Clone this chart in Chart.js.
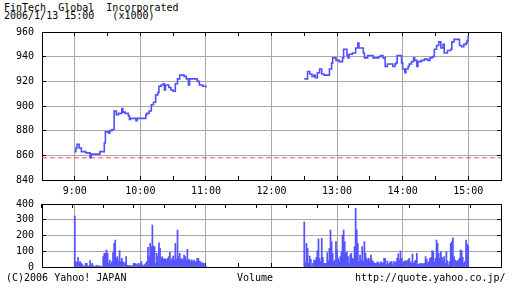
<!DOCTYPE html>
<html>
<head>
<meta charset="utf-8">
<script src="https://cdn.jsdelivr.net/npm/chart.js@4"></script>
<style>
  body { margin: 0; background: #fff; width: 512px; height: 288px; overflow: hidden; position: relative; }
  canvas { position: absolute; left: 0; }
  .txt { position: absolute; font: 10px 'DejaVu Sans Mono', monospace; line-height: 10px; white-space: pre; color: #000; }
</style>
</head>
<body>
<div class="txt" style="left:4px; top:3px;">FinTech  Global  Incorporated</div>
<div class="txt" style="left:4px; top:11px;">2006/1/13 15:00   (x1000)</div>
<canvas id="priceChart" width="512" height="200" style="top:0;"></canvas>
<canvas id="volumeChart" width="512" height="103" style="top:184px;"></canvas>
<div class="txt" style="left:6px; top:273px;">(C)2006 Yahoo! JAPAN</div>
<div class="txt" style="left:237px; top:273px;">Volume</div>
<div class="txt" style="left:355px; top:273px;">http://quote.yahoo.co.jp/</div>

<script>
// price, morning session
const morningTimes = ['9:00','9:01','9:02','9:04','9:06','9:10','9:14','9:15','9:23','9:27',
  '9:28','9:31','9:32','9:34','9:36','9:38','9:40','9:43','9:44','9:46',
  '9:49','9:50','9:51','9:56','9:57','10:05','10:06','10:08','10:10','10:12',
  '10:14','10:16','10:17','10:19','10:21','10:22','10:23','10:26','10:28','10:30',
  '10:32','10:34','10:36','10:40','10:42','10:44','10:45','10:51','10:52','10:54',
  '10:57','11:00'];
const morningPrices = [863,866,869,866,863,862,858,861,863,870,
  879,878,880,881,896,893,894,898,895,894,
  892,889,890,888,890,893,894,896,901,903,
  909,911,916,917,918,913,917,915,913,912,
  918,922,925,924,922,917,922,922,920,917,
  916,915];

// price, afternoon session
const afternoonTimes = ['12:30','12:33','12:35','12:37','12:39','12:40','12:42','12:44','12:46','12:48',
  '12:53','12:55','12:56','12:59','13:02','13:05','13:06','13:09','13:10','13:11',
  '13:14','13:17','13:19','13:20','13:24','13:25','13:28','13:33','13:35','13:38',
  '13:40','13:42','13:44','13:46','13:51','13:53','13:54','13:55','13:58','13:59',
  '14:00','14:02','14:03','14:05','14:06','14:08','14:10','14:11','14:13','14:14',
  '14:17','14:20','14:23','14:25','14:27','14:29','14:31','14:33','14:35','14:37',
  '14:38','14:40','14:41','14:44','14:45','14:47','14:50','14:52','14:54','14:56',
  '14:58','14:59','15:00'];
const afternoonPrices = [922,928,926,924,925,923,927,930,926,925,
  930,935,939,937,936,939,946,941,939,942,
  943,947,951,947,943,939,941,939,939,940,
  941,939,932,934,932,934,935,941,941,935,
  930,927,930,932,934,936,939,937,932,936,
  937,938,937,939,940,946,949,952,947,950,
  943,943,945,946,952,954,954,949,948,950,
  951,953,957];

const prevClose = 858;

// volume per minute, 9:00-11:00 and 12:30-15:00
const morningVolume = [324,34,30,61,27,34,23,15,8,4, 23,23,8,6,40,13,23,8,4,2,
  11,8,6,8,4,2,66,87,87,108, 87,23,44,19,34,91,150,171,55,66,
  40,104,34,55,34,27,23,66,11,6, 11,8,4,11,23,23,19,13,23,13,
  23,34,13,8,15,23,34,125,66,150, 129,267,133,129,23,87,66,154,119,55,
  66,49,53,51,44,55,66,93,44,53, 70,44,150,49,235,66,87,49,53,44,
  76,66,44,112,44,49,34,44,34,44, 34,34,55,55,38,34,23,27,23,13,
  8];
const afternoonVolume = [286,27,150,118,23,70,49,6,23,44, 40,61,104,178,55,34,182,61,23,23,
  23,91,40,118,235,161,87,34,44,161, 108,55,34,66,97,203,235,161,87,97,
  66,23,76,87,55,49,129,372,235,150, 34,76,44,129,34,161,87,55,44,55,
  40,76,44,34,27,23,23,34,27,19, 34,27,23,55,55,
  13,38,19,27,34,34,13,34,23,34, 55,83,44,102,55,27,34,40,34,40,
  44,55,34,23,83,23,34,44,87,19, 13,23,19,23,19,23,66,49,23,34,
  55,61,104,97,34,55,171,150,87,55, 97,61,44,66,23,97,40,13,34,150,
  161,186,66,44,34,40,44,55,108,104, 61,23,34,171,146,133];

const hourLabels = ['9:00','10:00','11:00','12:00','13:00','14:00','15:00'];

function toMin(t) {
  const [h, m] = t.split(':').map(Number);
  return (h - 9) * 60 + m;
}

const pricePoints = morningTimes.map((t, i) => ({ x: toMin(t), y: morningPrices[i] }))
  .concat([{ x: 150, y: null }])
  .concat(afternoonTimes.map((t, i) => ({ x: toMin(t), y: afternoonPrices[i] })));

const volumePoints = morningVolume.map((v, i) => ({ x: i, y: v }))
  .concat(afternoonVolume.map((v, i) => ({ x: 210 + i, y: v })));

Chart.defaults.font.family = "'DejaVu Sans Mono', monospace";
Chart.defaults.font.size = 10;
Chart.defaults.color = '#000';

const GRID = '#a8a8a8';
const hourGrid = ctx => (ctx.tick && ctx.tick.value % 60 === 0 && ctx.tick.value >= 0 && ctx.tick.value <= 360) ? GRID : 'rgba(0,0,0,0)';
const hourLabel = v => (v % 60 === 0 && v >= 0 && v <= 360) ? hourLabels[v / 60] : '';

function timeAxes(bottomHeight, topHeight, showLabels) {
  return {
    x: {
      type: 'linear', position: 'bottom', min: -30, max: 390, offset: false,
      afterFit: s => { s.height = bottomHeight; },
      ticks: { stepSize: 30, autoSkip: false, maxRotation: 0, padding: 9,
        callback: v => showLabels ? hourLabel(v) : '' },
      grid: { color: hourGrid, tickColor: '#000', tickLength: -4, offset: false },
      border: { color: '#000' }
    },
    xTop: {
      type: 'linear', position: 'top', min: -30, max: 390,
      afterFit: s => { s.height = topHeight; },
      ticks: { stepSize: 30, autoSkip: false, callback: () => '' },
      grid: { drawOnChartArea: false, tickColor: '#000', tickLength: -4 },
      border: { color: '#000' }
    }
  };
}

function valueAxes(min, max, step) {
  return {
    y: {
      position: 'left', min: min, max: max,
      afterFit: s => { s.width = 42; },
      ticks: { stepSize: step, padding: 12 },
      grid: { color: GRID, tickColor: '#000', tickLength: -4 },
      border: { color: '#000' }
    },
    yRight: {
      position: 'right', min: min, max: max,
      afterFit: s => { s.width = 11; },
      ticks: { stepSize: step, callback: () => '' },
      grid: { drawOnChartArea: false, tickColor: '#000', tickLength: -4 },
      border: { color: '#000' }
    }
  };
}

new Chart(document.getElementById('priceChart'), {
  type: 'line',
  data: {
    datasets: [{
      data: pricePoints,
      borderColor: '#5050ff',
      borderWidth: 1.6,
      stepped: true,
      spanGaps: false,
      pointRadius: 0
    }, {
      data: [{ x: -30, y: prevClose }, { x: 390, y: prevClose }],
      borderColor: '#ff4c4c',
      borderWidth: 1,
      borderDash: [5, 3],
      pointRadius: 0
    }]
  },
  options: {
    responsive: false,
    animation: false,
    layout: { padding: 0 },
    plugins: { legend: { display: false }, tooltip: { enabled: false } },
    scales: Object.assign(timeAxes(20, 32, true), valueAxes(840, 960, 20))
  }
});

new Chart(document.getElementById('volumeChart'), {
  type: 'bar',
  data: {
    datasets: [{
      data: volumePoints,
      backgroundColor: '#5555ff',
      borderWidth: 0,
      barPercentage: 1,
      categoryPercentage: 1
    }]
  },
  options: {
    responsive: false,
    animation: false,
    layout: { padding: 0 },
    plugins: { legend: { display: false }, tooltip: { enabled: false } },
    scales: Object.assign(timeAxes(20, 20, false), valueAxes(0, 400, 100))
  }
});
</script>
</body>
</html>
